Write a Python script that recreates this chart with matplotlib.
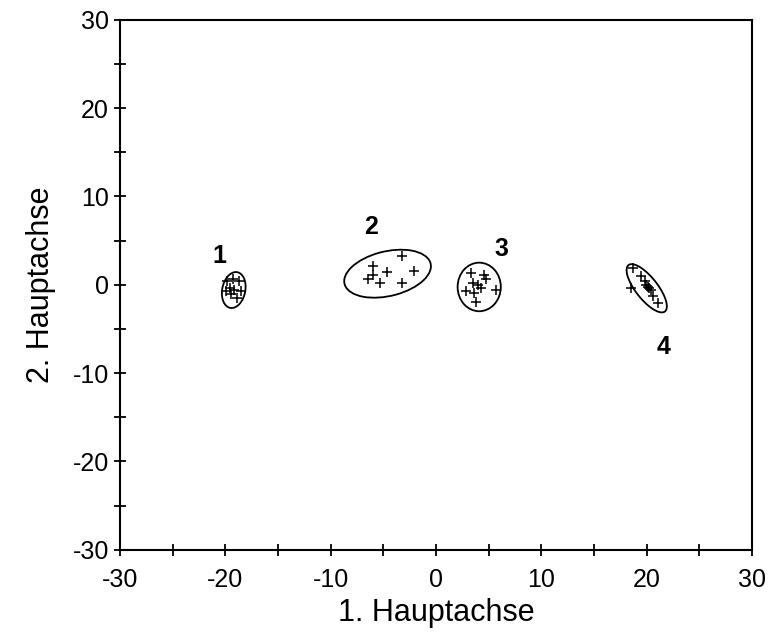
import matplotlib
matplotlib.use("Agg")
import matplotlib.pyplot as plt
from matplotlib.patches import Ellipse
from matplotlib.ticker import MultipleLocator

plt.rcParams['font.family'] = ['Liberation Sans', 'DejaVu Sans']
plt.rcParams['axes.unicode_minus'] = False
NARROW = ['Liberation Sans Narrow', 'Liberation Sans', 'DejaVu Sans']

# scores of the samples, one list per group
g1_x = [-19.8, -19.3, -18.7, -19.6, -19.15, -18.5, -19.5, -18.85, -19.95]
g1_y = [0.4, 0.6, 0.4, -0.4, -0.6, -0.75, -1.1, -1.5, -0.75]
g2_x = [-3.2, -6.0, -4.65, -2.1, -6.5, -5.3, -3.2, -6.0]
g2_y = [3.2, 2.1, 1.4, 1.5, 0.6, 0.2, 0.2, 1.1]
g3_x = [3.3, 4.6, 4.75, 4.0, 4.3, 2.85, 5.7, 3.6, 3.8, 3.5]
g3_y = [1.3, 1.1, 0.6, 0.0, -0.4, -0.75, -0.6, -0.95, -1.9, 0.2]
g4_x = [18.7, 19.5, 19.8, 20.1, 20.2, 20.4, 20.6, 21.05, 18.5, 19.95]
g4_y = [1.9, 0.95, 0.4, -0.2, -0.35, -0.55, -1.3, -2.1, -0.4, 0.0]

# confidence ellipses: centre, width, height, angle
ell_centre = [(-19.2, -0.6), (-4.6, 1.25), (4.1, -0.25), (20.0, -0.4)]
ell_width = [4.1, 8.5, 4.1, 6.3]
ell_height = [2.2, 5.0, 5.5, 2.2]
ell_angle = [82, 18, 0, -58]

group_names = ['1', '2', '3', '4']
label_pos = [(-20.6, 3.2), (-6.2, 6.5), (6.2, 4.0), (21.6, -7.0)]

fig = plt.figure(figsize=(7.69, 6.37), dpi=100)
ax = fig.add_axes([0.156, 0.137, 0.822, 0.832])

groups = [(g1_x, g1_y), (g2_x, g2_y), (g3_x, g3_y), (g4_x, g4_y)]
for (gx, gy) in groups:
    ax.plot(gx, gy, linestyle='none', marker='+', color='black',
            markersize=7, markeredgewidth=1.1)

for i in range(len(ell_centre)):
    e = Ellipse(ell_centre[i], ell_width[i], ell_height[i], angle=ell_angle[i],
                fill=False, edgecolor='black', linewidth=1.3)
    ax.add_patch(e)

for i in range(len(group_names)):
    ax.text(label_pos[i][0], label_pos[i][1], group_names[i], fontsize=18,
            fontweight='bold', ha='center', va='center')

ax.set_xlim(-30, 30)
ax.set_ylim(-30, 30)
ax.xaxis.set_major_locator(MultipleLocator(10))
ax.xaxis.set_minor_locator(MultipleLocator(5))
ax.yaxis.set_major_locator(MultipleLocator(10))
ax.yaxis.set_minor_locator(MultipleLocator(5))
ax.tick_params(which='both', direction='inout', length=9, width=1.3,
               top=False, right=False, labelsize=18)
ax.tick_params(axis='x', pad=9)
for lab in ax.get_xticklabels() + ax.get_yticklabels():
    lab.set_family(NARROW)
for sp in ax.spines.values():
    sp.set_linewidth(1.5)

ax.set_xlabel('1. Hauptachse', fontsize=22, labelpad=4)
ax.set_ylabel('2. Hauptachse', fontsize=22, labelpad=12)

fig.savefig('out.png', dpi=100)
